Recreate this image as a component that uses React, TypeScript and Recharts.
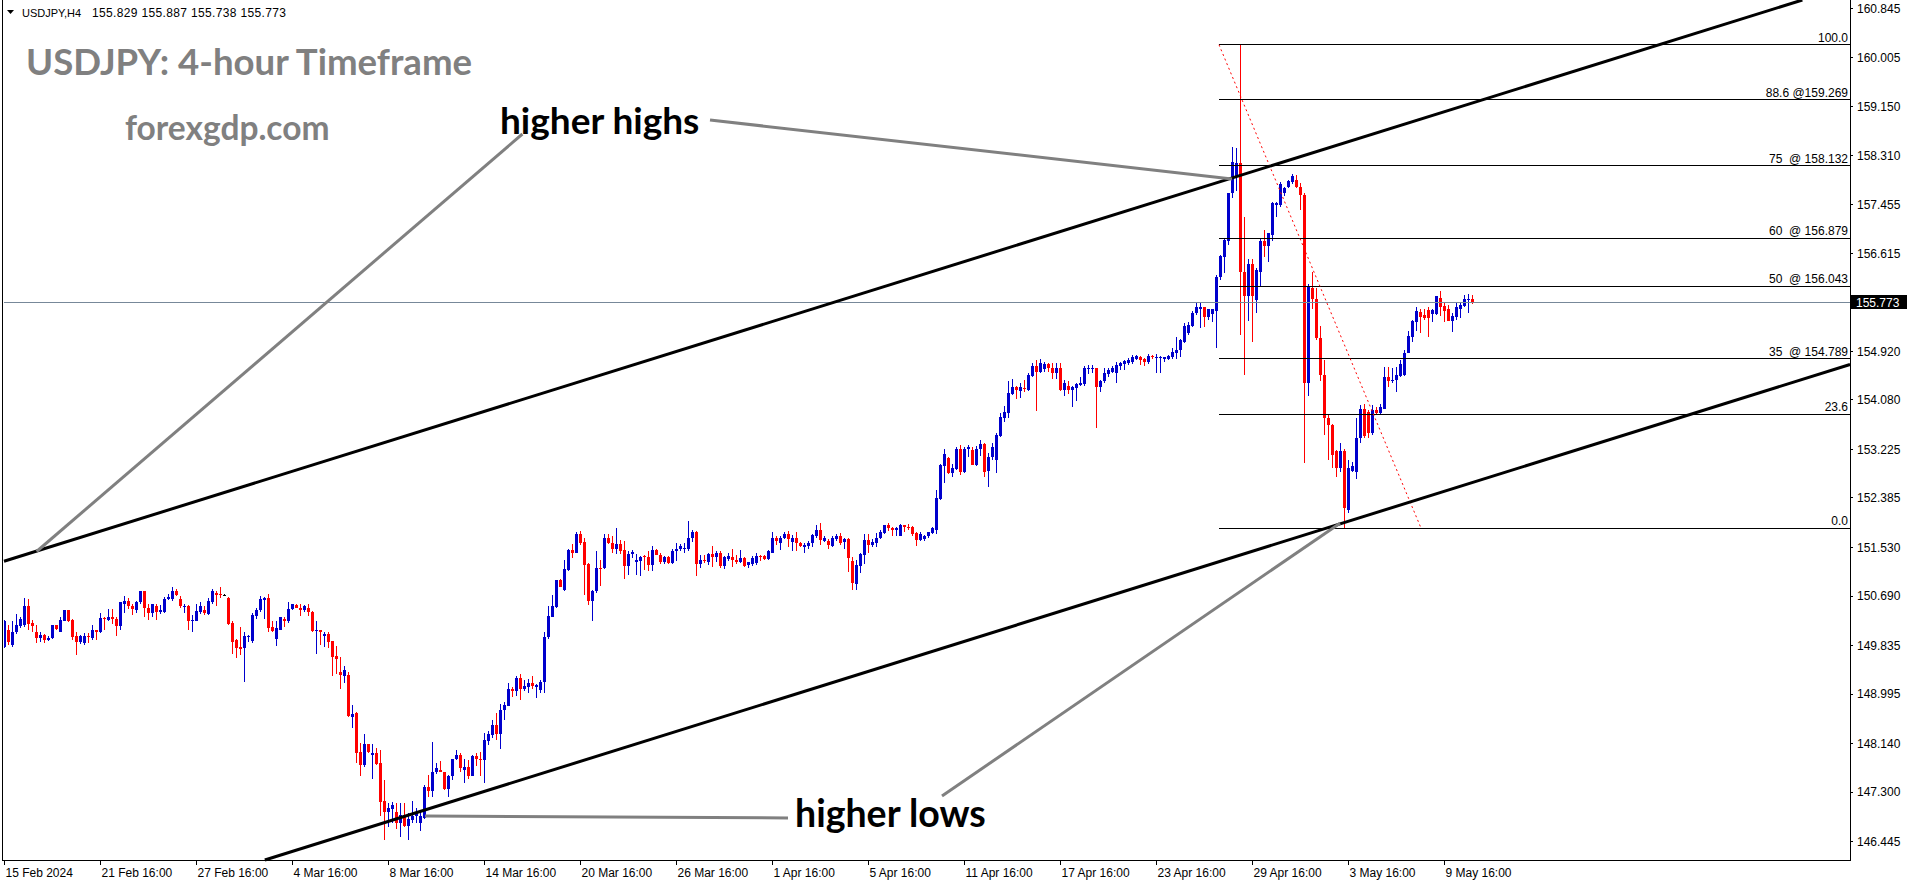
import React from "react";
import { Bar, ComposedChart, ReferenceLine, XAxis, YAxis } from "recharts";

const AXIS_FONT = "'Liberation Sans', Arial, sans-serif";
const TITLE_FONT = "Lato, 'Open Sans', sans-serif";
const BULL = "#0000CC";
const BEAR = "#FF0000";

// x axis: one label every 24 four-hour bars
const TIME_LABELS = [
  "15 Feb 2024", "21 Feb 16:00", "27 Feb 16:00", "4 Mar 16:00", "8 Mar 16:00",
  "14 Mar 16:00", "20 Mar 16:00", "26 Mar 16:00", "1 Apr 16:00", "5 Apr 16:00",
  "11 Apr 16:00", "17 Apr 16:00", "23 Apr 16:00", "29 Apr 16:00", "3 May 16:00",
  "9 May 16:00",
];
const BARS_PER_LABEL = 24;

const PRICE_TICKS = [
  160.845, 160.005, 159.15, 158.31, 157.455, 156.615, 154.92, 154.08, 153.225,
  152.385, 151.53, 150.69, 149.835, 148.995, 148.14, 147.3, 146.445,
];

// [open, high, low, close] per H4 bar
const FEB_MAR = [
  [149.81, 150.28, 149.79, 150.25], [150.10, 150.19, 149.84, 149.90], [149.84, 150.25, 149.81, 150.07],
  [150.06, 150.38, 150.03, 150.19], [150.17, 150.32, 150.13, 150.29], [150.19, 150.65, 150.16, 150.52],
  [150.52, 150.63, 150.10, 150.21], [150.23, 150.28, 150.07, 150.18], [150.07, 150.19, 149.87, 149.97],
  [149.97, 150.06, 149.90, 150.02], [150.02, 150.03, 149.87, 149.93], [149.93, 150.00, 149.91, 149.96],
  [149.96, 150.19, 149.94, 150.19], [150.19, 150.19, 150.10, 150.12], [150.06, 150.33, 150.06, 150.28],
  [150.26, 150.45, 150.25, 150.44], [150.44, 150.45, 150.24, 150.26], [150.28, 150.30, 149.93, 149.99],
  [150.00, 150.06, 149.67, 149.90], [149.90, 150.02, 149.86, 150.00], [149.87, 150.05, 149.84, 150.00],
  [150.00, 150.05, 149.87, 149.99], [149.97, 150.19, 149.93, 150.10], [150.10, 150.10, 149.93, 150.07],
  [150.07, 150.40, 150.05, 150.31], [150.31, 150.33, 150.11, 150.29], [150.28, 150.46, 150.25, 150.32],
  [150.32, 150.46, 150.21, 150.29], [150.29, 150.32, 150.00, 150.18], [150.18, 150.59, 150.10, 150.58],
  [150.56, 150.69, 150.40, 150.61], [150.61, 150.65, 150.47, 150.52], [150.52, 150.56, 150.36, 150.46],
  [150.45, 150.61, 150.40, 150.59], [150.59, 150.78, 150.56, 150.77], [150.77, 150.77, 150.33, 150.48],
  [150.49, 150.56, 150.28, 150.40], [150.40, 150.56, 150.32, 150.55], [150.51, 150.56, 150.28, 150.41],
  [150.42, 150.54, 150.38, 150.44], [150.42, 150.68, 150.39, 150.63], [150.63, 150.72, 150.62, 150.67],
  [150.63, 150.84, 150.61, 150.78], [150.78, 150.82, 150.69, 150.70], [150.64, 150.69, 150.48, 150.51],
  [150.51, 150.55, 150.40, 150.52], [150.52, 150.54, 150.10, 150.26], [150.26, 150.36, 150.07, 150.28],
  [150.26, 150.56, 150.25, 150.43], [150.42, 150.58, 150.38, 150.52], [150.45, 150.52, 150.37, 150.39],
  [150.38, 150.65, 150.36, 150.60], [150.59, 150.82, 150.56, 150.77], [150.75, 150.77, 150.52, 150.71],
  [150.73, 150.84, 150.65, 150.71], [150.71, 150.73, 150.69, 150.71], [150.66, 150.68, 150.19, 150.21],
  [150.23, 150.25, 149.69, 149.90], [149.93, 149.94, 149.61, 149.80], [149.81, 150.16, 149.67, 149.77],
  [149.79, 150.06, 149.21, 150.00], [149.99, 150.02, 149.90, 150.00], [149.91, 150.39, 149.88, 150.36],
  [150.35, 150.48, 150.30, 150.45], [150.44, 150.69, 150.42, 150.63], [150.62, 150.67, 150.30, 150.65],
  [150.65, 150.73, 150.07, 150.13], [150.16, 150.25, 150.06, 150.09], [149.94, 150.26, 149.83, 150.13],
  [150.11, 150.33, 150.10, 150.32], [150.30, 150.33, 150.16, 150.25], [150.25, 150.58, 150.23, 150.46],
  [150.46, 150.56, 150.45, 150.55], [150.54, 150.56, 150.48, 150.49], [150.49, 150.55, 150.35, 150.45],
  [150.45, 150.54, 150.42, 150.51], [150.49, 150.55, 150.35, 150.42], [150.42, 150.43, 150.06, 150.09],
  [150.08, 150.25, 149.69, 150.10], [150.11, 150.11, 149.84, 150.06], [150.00, 150.06, 149.81, 150.03],
  [150.03, 150.06, 149.80, 149.90], [149.92, 149.92, 149.31, 149.64], [149.65, 149.83, 149.34, 149.60],
  [149.38, 149.64, 149.08, 149.33], [149.31, 149.48, 149.19, 149.41], [149.33, 149.38, 148.60, 148.62],
  [148.60, 148.81, 148.40, 148.65], [148.66, 148.69, 147.80, 147.98], [148.00, 148.15, 147.58, 147.76],
  [147.76, 148.30, 147.73, 148.13], [148.13, 148.13, 147.98, 148.00], [147.95, 148.13, 147.52, 147.98],
  [147.98, 148.06, 147.77, 147.79], [147.81, 148.03, 146.88, 147.13], [147.15, 147.51, 146.48, 146.96],
  [146.96, 147.11, 146.70, 147.02], [147.00, 147.13, 146.76, 147.08], [146.96, 147.12, 146.67, 146.76],
  [146.76, 147.11, 146.53, 146.90], [146.90, 147.11, 146.70, 146.71], [146.71, 146.93, 146.48, 146.83],
  [146.82, 147.15, 146.76, 146.88], [146.88, 147.02, 146.76, 146.94], [146.77, 146.96, 146.62, 146.88],
  [146.86, 147.42, 146.83, 147.38], [147.38, 147.60, 147.22, 147.32], [147.32, 148.17, 147.22, 147.65],
  [147.64, 147.80, 147.62, 147.71], [147.69, 147.83, 147.64, 147.65], [147.64, 147.65, 147.34, 147.35],
  [147.35, 147.60, 147.22, 147.57], [147.57, 147.88, 147.51, 147.87], [147.87, 148.03, 147.85, 147.94],
  [147.94, 147.97, 147.65, 147.71], [147.69, 147.87, 147.45, 147.74], [147.73, 147.85, 147.52, 147.58],
  [147.58, 147.94, 147.57, 147.92], [147.92, 147.98, 147.75, 147.87], [147.87, 148.00, 147.57, 147.85],
];

const MAR_APR = [
  [147.85, 148.32, 147.45, 148.20], [148.19, 148.35, 148.11, 148.30], [148.29, 148.55, 148.23, 148.46],
  [148.46, 148.66, 148.20, 148.31], [148.31, 148.83, 148.04, 148.72], [148.72, 148.86, 148.55, 148.81],
  [148.79, 149.18, 148.78, 149.09], [149.09, 149.12, 148.95, 149.04], [149.04, 149.30, 148.96, 149.28],
  [149.28, 149.34, 148.89, 149.09], [149.09, 149.24, 149.05, 149.13], [149.12, 149.25, 149.01, 149.18],
  [149.19, 149.30, 149.08, 149.13], [149.12, 149.17, 148.92, 149.15], [149.07, 149.24, 149.01, 149.21],
  [149.21, 150.07, 149.01, 149.99], [149.98, 150.52, 149.94, 150.35], [150.33, 150.71, 150.32, 150.51],
  [150.50, 150.97, 150.48, 150.96], [150.96, 150.98, 150.84, 150.84], [150.79, 151.32, 150.77, 151.15],
  [151.14, 151.51, 151.13, 151.49], [151.49, 151.59, 151.34, 151.44], [151.44, 151.80, 151.43, 151.76],
  [151.77, 151.82, 151.57, 151.61], [151.63, 151.70, 150.71, 151.23], [151.24, 151.26, 150.53, 150.61],
  [150.61, 150.79, 150.26, 150.78], [150.77, 151.47, 150.75, 151.17], [151.17, 151.32, 150.86, 151.15],
  [151.17, 151.76, 151.15, 151.69], [151.69, 151.76, 151.59, 151.61], [151.61, 151.72, 151.43, 151.51],
  [151.51, 151.86, 151.42, 151.59], [151.59, 151.66, 151.41, 151.47], [151.48, 151.65, 150.98, 151.21],
  [151.21, 151.46, 151.05, 151.42], [151.41, 151.49, 151.34, 151.45], [151.27, 151.42, 151.05, 151.31],
  [151.30, 151.38, 151.04, 151.37], [151.38, 151.40, 151.14, 151.36], [151.37, 151.46, 151.13, 151.23],
  [151.23, 151.55, 151.13, 151.49], [151.49, 151.51, 151.40, 151.40], [151.40, 151.44, 151.25, 151.28],
  [151.28, 151.38, 151.24, 151.36], [151.36, 151.38, 151.25, 151.26], [151.26, 151.50, 151.24, 151.46],
  [151.46, 151.61, 151.30, 151.51], [151.51, 151.59, 151.47, 151.55], [151.50, 151.61, 151.44, 151.52],
  [151.51, 151.98, 151.47, 151.69], [151.69, 151.84, 151.63, 151.80], [151.80, 151.82, 151.03, 151.24],
  [151.24, 151.40, 151.17, 151.32], [151.32, 151.40, 151.26, 151.31], [151.27, 151.44, 151.23, 151.42],
  [151.42, 151.55, 151.19, 151.36], [151.36, 151.46, 151.27, 151.44], [151.44, 151.46, 151.17, 151.21],
  [151.21, 151.38, 151.15, 151.36], [151.33, 151.43, 151.30, 151.38], [151.36, 151.50, 151.19, 151.31],
  [151.31, 151.40, 151.25, 151.27], [151.28, 151.49, 151.26, 151.34], [151.34, 151.37, 151.19, 151.21],
  [151.23, 151.28, 151.17, 151.27], [151.24, 151.38, 151.21, 151.34], [151.26, 151.44, 151.23, 151.38],
  [151.38, 151.40, 151.30, 151.37], [151.38, 151.40, 151.32, 151.33], [151.33, 151.49, 151.31, 151.47],
  [151.44, 151.79, 151.43, 151.70], [151.70, 151.72, 151.57, 151.65], [151.61, 151.72, 151.49, 151.69],
  [151.69, 151.80, 151.67, 151.76], [151.76, 151.82, 151.54, 151.67], [151.63, 151.75, 151.46, 151.70],
  [151.70, 151.79, 151.46, 151.60], [151.60, 151.63, 151.53, 151.55], [151.53, 151.60, 151.44, 151.57],
  [151.55, 151.65, 151.51, 151.61], [151.60, 151.77, 151.54, 151.75], [151.73, 151.92, 151.70, 151.84],
  [151.84, 151.96, 151.57, 151.66], [151.65, 151.72, 151.63, 151.69], [151.65, 151.67, 151.51, 151.57],
];

const APR = [
  [151.55, 151.73, 151.54, 151.70], [151.67, 151.76, 151.65, 151.72], [151.72, 151.78, 151.57, 151.61],
  [151.63, 151.70, 151.50, 151.67], [151.67, 151.70, 151.11, 151.34], [151.30, 151.36, 150.79, 150.91],
  [150.90, 151.31, 150.79, 151.23], [151.21, 151.44, 151.09, 151.42], [151.40, 151.76, 151.25, 151.66],
  [151.66, 151.76, 151.44, 151.57], [151.57, 151.67, 151.53, 151.63], [151.61, 151.78, 151.54, 151.70],
  [151.69, 151.83, 151.67, 151.80], [151.78, 151.92, 151.76, 151.92], [151.92, 151.96, 151.82, 151.86],
  [151.87, 151.89, 151.72, 151.83], [151.83, 151.89, 151.72, 151.86], [151.73, 151.93, 151.72, 151.92],
  [151.92, 151.92, 151.80, 151.89], [151.89, 151.94, 151.84, 151.88], [151.88, 151.90, 151.72, 151.77],
  [151.78, 151.80, 151.55, 151.66], [151.66, 151.80, 151.65, 151.77], [151.67, 151.74, 151.65, 151.73],
  [151.72, 151.80, 151.70, 151.79], [151.78, 151.89, 151.77, 151.87], [151.84, 152.52, 151.77, 152.38],
  [152.36, 152.98, 152.35, 152.96], [152.93, 153.24, 152.64, 153.15], [153.07, 153.10, 152.80, 152.81],
  [152.82, 152.97, 152.75, 152.90], [152.88, 153.27, 152.87, 153.24], [153.24, 153.30, 152.78, 152.84],
  [152.83, 153.27, 152.82, 153.23], [153.23, 153.30, 153.10, 153.26], [153.21, 153.27, 152.95, 152.95],
  [152.95, 153.28, 152.94, 153.24], [153.23, 153.39, 153.11, 153.32], [153.32, 153.33, 152.75, 152.84],
  [152.86, 153.16, 152.58, 153.10], [153.10, 153.33, 153.04, 153.27], [153.05, 153.50, 152.81, 153.47],
  [153.46, 153.85, 153.44, 153.78], [153.76, 153.97, 153.70, 153.88], [153.86, 154.41, 153.76, 154.20],
  [154.18, 154.44, 154.17, 154.31], [154.30, 154.32, 154.09, 154.26], [154.24, 154.38, 154.12, 154.30],
  [154.28, 154.42, 154.22, 154.27], [154.25, 154.55, 154.24, 154.51], [154.50, 154.72, 154.47, 154.66],
  [154.66, 154.77, 153.89, 154.57], [154.57, 154.78, 154.55, 154.72], [154.61, 154.74, 154.57, 154.71],
  [154.71, 154.72, 154.57, 154.64], [154.64, 154.72, 154.45, 154.54], [154.55, 154.72, 154.45, 154.63],
  [154.64, 154.72, 154.24, 154.26], [154.26, 154.42, 154.15, 154.38], [154.32, 154.40, 154.18, 154.26],
  [154.26, 154.32, 153.95, 154.30], [154.28, 154.38, 154.07, 154.35], [154.34, 154.48, 154.32, 154.37],
  [154.36, 154.66, 154.32, 154.63], [154.61, 154.68, 154.53, 154.64], [154.63, 154.68, 154.54, 154.64],
  [154.63, 154.63, 153.59, 154.30], [154.30, 154.42, 154.21, 154.40], [154.40, 154.63, 154.37, 154.55],
  [154.53, 154.63, 154.48, 154.59], [154.57, 154.67, 154.55, 154.64], [154.55, 154.74, 154.37, 154.68],
  [154.67, 154.74, 154.59, 154.72], [154.70, 154.77, 154.60, 154.76], [154.72, 154.80, 154.69, 154.77],
  [154.74, 154.86, 154.70, 154.82], [154.78, 154.86, 154.77, 154.84], [154.83, 154.84, 154.68, 154.77],
  [154.78, 154.80, 154.66, 154.74], [154.74, 154.87, 154.70, 154.84], [154.84, 154.86, 154.78, 154.82],
  [154.81, 154.87, 154.55, 154.83], [154.81, 154.84, 154.55, 154.83], [154.78, 154.83, 154.74, 154.82],
  [154.78, 154.86, 154.77, 154.84], [154.83, 154.97, 154.78, 154.91], [154.90, 155.16, 154.78, 154.95],
  [154.95, 155.13, 154.83, 155.11],
];

const APR_MAY = [
  [155.09, 155.41, 155.07, 155.35], [155.23, 155.43, 155.20, 155.38], [155.36, 155.61, 155.34, 155.59],
  [155.58, 155.76, 155.55, 155.69], [155.66, 155.76, 155.32, 155.69], [155.68, 155.69, 155.34, 155.51],
  [155.51, 155.66, 155.47, 155.65], [155.57, 155.66, 155.42, 155.65], [155.62, 156.24, 154.97, 156.21],
  [156.20, 156.59, 156.15, 156.57], [156.56, 156.87, 156.27, 156.85], [156.83, 157.66, 156.76, 157.65],
  [157.65, 158.45, 157.58, 158.20], [157.94, 158.43, 157.70, 158.18], [158.18, 160.221, 155.20, 156.30],
  [156.30, 157.25, 154.52, 155.87], [155.87, 156.51, 155.45, 156.43], [156.43, 156.51, 155.09, 155.87],
  [155.81, 156.36, 155.59, 156.33], [156.30, 156.86, 156.04, 156.83], [156.83, 157.01, 156.56, 156.74],
  [156.74, 156.97, 156.47, 156.96], [156.93, 157.51, 156.82, 157.48], [157.45, 157.51, 157.24, 157.48],
  [157.45, 157.85, 157.42, 157.81], [157.66, 157.77, 157.61, 157.75], [157.76, 157.89, 157.74, 157.87],
  [157.84, 157.99, 157.81, 157.95], [157.89, 157.97, 157.75, 157.77], [157.77, 157.83, 157.36, 157.62],
  [157.62, 157.65, 152.99, 154.37], [154.37, 156.08, 154.14, 156.05], [156.01, 156.30, 155.66, 155.82],
  [155.82, 156.01, 155.12, 155.15], [155.15, 155.35, 154.40, 154.51], [154.51, 154.77, 153.47, 153.76],
  [153.76, 153.82, 153.04, 153.65], [153.65, 153.66, 152.90, 153.13], [153.19, 153.21, 152.75, 152.90],
  [152.90, 153.33, 152.84, 153.19], [153.19, 153.24, 151.865, 152.21], [152.18, 153.04, 152.12, 152.90],
  [152.86, 153.01, 152.84, 152.93], [152.84, 153.76, 152.72, 153.42], [153.42, 153.99, 153.34, 153.93],
  [153.93, 154.01, 153.42, 153.46], [153.88, 153.91, 153.42, 153.50], [153.50, 153.99, 153.47, 153.91],
  [153.91, 153.96, 153.82, 153.86], [153.86, 154.01, 153.84, 153.95], [153.93, 154.65, 153.93, 154.48],
  [154.48, 154.65, 154.31, 154.40], [154.40, 154.63, 154.37, 154.43], [154.42, 154.65, 154.22, 154.51],
  [154.49, 154.77, 154.48, 154.71], [154.51, 154.94, 154.49, 154.90], [154.90, 155.28, 154.89, 155.18],
  [155.17, 155.46, 155.09, 155.45], [155.43, 155.69, 155.28, 155.62], [155.60, 155.66, 155.23, 155.52],
  [155.55, 155.66, 155.46, 155.49], [155.63, 155.69, 155.16, 155.49], [155.57, 155.66, 155.43, 155.63],
  [155.57, 155.88, 155.55, 155.87], [155.85, 155.97, 155.53, 155.68], [155.70, 155.78, 155.43, 155.62],
  [155.65, 155.72, 155.45, 155.45], [155.45, 155.59, 155.26, 155.53], [155.52, 155.78, 155.47, 155.68],
  [155.66, 155.78, 155.49, 155.72], [155.70, 155.89, 155.69, 155.82], [155.81, 155.91, 155.59, 155.83],
  [155.829, 155.887, 155.738, 155.773],
];

// fibonacci retracement drawn from the 29 Apr high to the 3 May low
const FIB_LABELS = ["100.0", "88.6 @159.269", "75  @ 158.132", "60  @ 156.879", "50  @ 156.043", "35  @ 154.789", "23.6", "0.0"];
const FIB_PRICES = [160.221, 159.269, 158.132, 156.879, 156.043, 154.789, 153.837, 151.865];
const FIB_START_BAR = 303.75;
const FIB_TREND = [[303.75, 160.221], [354.25, 151.865]];

// hand-drawn objects, anchor points as [bar, price]
const UPPER_CHANNEL = [[0.25, 151.296], [353.5, 158.921]];
const LOWER_CHANNEL = [[65.25, 146.127], [386.5, 153.072]];
const HIGHS_POINTERS = [
  [[176.5, 158.92], [307, 157.9]],
  [[129.6, 158.678], [8.15, 151.46]],
];
const LOWS_POINTERS = [
  [[105.25, 146.887], [196, 146.853]],
  [[234.5, 147.233], [334, 151.95]],
];

const X_MIN = 0;
const X_MAX = 461.5;
const Y_MIN = 146.126;
const Y_MAX = 160.995;

const CANDLES = [...FEB_MAR, ...MAR_APR, ...APR, ...APR_MAY];
const LAST = CANDLES[CANDLES.length - 1];

const data = CANDLES.map(([open, high, low, close], i) => ({
  i,
  open,
  high,
  low,
  close,
  range: [low, high],
}));

const TICK_BARS = TIME_LABELS.map((_, k) => k * BARS_PER_LABEL);

// stretch a two-point line to the edges of the plot
function toEdges([p1, p2]: number[][]) {
  const m = (p2[1] - p1[1]) / (p2[0] - p1[0]);
  let a = { x: X_MIN, y: p1[1] + m * (X_MIN - p1[0]) };
  let b = { x: X_MAX, y: p1[1] + m * (X_MAX - p1[0]) };
  if (a.y < Y_MIN) a = { x: p1[0] + (Y_MIN - p1[1]) / m, y: Y_MIN };
  if (b.y > Y_MAX) b = { x: p1[0] + (Y_MAX - p1[1]) / m, y: Y_MAX };
  return [a, b];
}

const seg = (pts: number[][]) => pts.map(([x, y]) => ({ x, y }));

function Candle(props: any) {
  const { x, y, width, height, payload } = props;
  if (!payload || !isFinite(y) || !isFinite(height)) return null;
  const { open, high, low, close } = payload;
  const cx = Math.round(x + width / 2 + 0.25);
  const k = height / (high - low);
  const yAt = (p: number) => y + (high - p) * k;
  const color = close > open ? BULL : close < open ? BEAR : "#000";
  const top = Math.round(yAt(Math.max(open, close)));
  const bot = Math.round(yAt(Math.min(open, close)));
  return (
    <g>
      <line x1={cx + 0.5} x2={cx + 0.5} y1={Math.round(y)} y2={Math.round(y + height)} stroke={color} strokeWidth={1} />
      <rect x={cx - 1} y={top} width={3} height={Math.max(1, bot - top)} fill={color} />
    </g>
  );
}

function TimeTick(props: any) {
  const { x, payload } = props;
  const label = TIME_LABELS[Math.round(payload.value / BARS_PER_LABEL)];
  const tx = Math.round(x) + 0.5;
  return (
    <g>
      <line x1={tx} x2={tx} y1={860} y2={865} stroke="#000" strokeWidth={1} />
      <text x={tx + 1} y={877} fontSize={12} fontFamily={AXIS_FONT} fill="#000">
        {label}
      </text>
    </g>
  );
}

function FibLabel(props: any) {
  const { viewBox, text } = props;
  if (!viewBox) return null;
  return (
    <text
      x={viewBox.x + viewBox.width - 2}
      y={viewBox.y - 3}
      textAnchor="end"
      fontSize={12}
      fontFamily={AXIS_FONT}
      fill="#000"
      style={{ whiteSpace: "pre" }}
    >
      {text}
    </text>
  );
}

function PriceTag(props: any) {
  const { viewBox } = props;
  if (!viewBox) return null;
  const left = viewBox.x + viewBox.width + 1;
  const cy = Math.round(viewBox.y);
  return (
    <g>
      <rect x={left} y={cy - 7} width={56} height={14} fill="#000" />
      <text x={left + 5} y={cy + 4.5} fontSize={12} fontFamily={AXIS_FONT} fill="#fff">
        {LAST[3].toFixed(3)}
      </text>
    </g>
  );
}

export default function App() {
  return (
    <div style={{ position: "absolute", left: 0, top: 0, width: 1914, height: 884, background: "#fff" }}>
      <ComposedChart
        width={1914}
        height={884}
        data={data}
        margin={{ top: 0, right: 0, bottom: 0, left: 4 }}
      >
        <XAxis
          type="number"
          dataKey="i"
          domain={[X_MIN, X_MAX]}
          allowDataOverflow
          ticks={TICK_BARS}
          interval={0}
          tick={<TimeTick />}
          tickLine={false}
          axisLine={false}
          height={24}
        />
        <YAxis
          orientation="right"
          type="number"
          domain={[Y_MIN, Y_MAX]}
          allowDataOverflow
          ticks={PRICE_TICKS}
          interval={0}
          width={64}
          axisLine={false}
          tickSize={3}
          tickMargin={4}
          tickLine={{ stroke: "#000", shapeRendering: "crispEdges" }}
          tick={{ fill: "#000", fontSize: 12, fontFamily: AXIS_FONT }}
          tickFormatter={(v: number) => v.toFixed(3)}
        />

        <ReferenceLine
          y={LAST[3]}
          stroke="#778899"
          strokeWidth={1}
          shapeRendering="crispEdges"
          label={<PriceTag />}
        />

        <Bar dataKey="range" barSize={3} shape={<Candle />} isAnimationActive={false} />

        {FIB_PRICES.map((p, k) => (
          <ReferenceLine
            key={`fib-${k}`}
            segment={[{ x: FIB_START_BAR, y: p }, { x: X_MAX, y: p }]}
            stroke="#000"
            strokeWidth={1}
            shapeRendering="crispEdges"
            ifOverflow="visible"
            label={<FibLabel text={FIB_LABELS[k]} />}
          />
        ))}
        <ReferenceLine
          segment={seg(FIB_TREND)}
          stroke="#FF0000"
          strokeWidth={1}
          strokeDasharray="2 3"
          ifOverflow="visible"
        />

        {[UPPER_CHANNEL, LOWER_CHANNEL].map((line, k) => (
          <ReferenceLine
            key={`ch-${k}`}
            segment={toEdges(line)}
            stroke="#000"
            strokeWidth={3}
            ifOverflow="visible"
          />
        ))}

        {[...HIGHS_POINTERS, ...LOWS_POINTERS].map((line, k) => (
          <ReferenceLine
            key={`ptr-${k}`}
            segment={seg(line)}
            stroke="#808080"
            strokeWidth={3}
            ifOverflow="visible"
          />
        ))}
      </ComposedChart>

      {/* chart frame: left, right (price scale) and bottom edges */}
      <div
        style={{
          position: "absolute",
          left: 2,
          top: 0,
          width: 1849,
          height: 861,
          borderLeft: "1px solid #000",
          borderRight: "1px solid #000",
          borderBottom: "1px solid #000",
          boxSizing: "border-box",
          pointerEvents: "none",
        }}
      />

      <svg
        width={1914}
        height={884}
        style={{ position: "absolute", left: 0, top: 0, pointerEvents: "none" }}
      >
        <polygon points="7,10 14,10 10.5,14" fill="#000" />
        <text x={22} y={17} fontSize={11} fontFamily={AXIS_FONT} fill="#000">
          USDJPY,H4
        </text>
        <text x={92} y={17} fontSize={12} fontFamily={AXIS_FONT} fill="#000" textLength={194} lengthAdjust="spacing">
          {LAST.map((v) => v.toFixed(3)).join(" ")}
        </text>

        <text x={26} y={75} fontSize={36.6} fontWeight={700} fontFamily={TITLE_FONT} fill="#808080">
          USDJPY: 4-hour Timeframe
        </text>
        <text x={125} y={140} fontSize={33.5} fontWeight={700} fontFamily={TITLE_FONT} fill="#808080">
          forexgdp.com
        </text>

        <text x={500} y={134} fontSize={37} fontWeight={700} fontFamily={TITLE_FONT} fill="#000">
          higher highs
        </text>
        <text x={795} y={827} fontSize={37.5} fontWeight={700} fontFamily={TITLE_FONT} fill="#000">
          higher lows
        </text>
      </svg>
    </div>
  );
}
